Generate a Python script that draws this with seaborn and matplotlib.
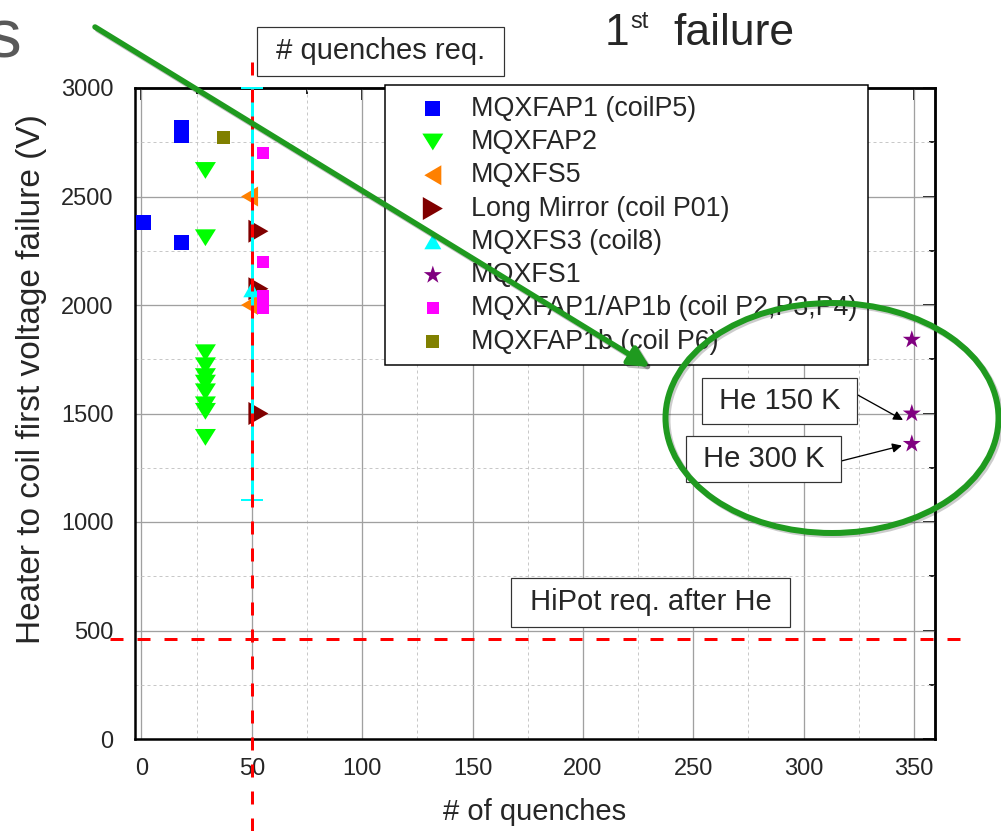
import numpy as np
import pandas as pd
import matplotlib
matplotlib.use("Agg")
import matplotlib.pyplot as plt
import seaborn as sns
from matplotlib.path import Path
from matplotlib.markers import MarkerStyle
from matplotlib.patches import Ellipse, FancyArrowPatch
import matplotlib.patheffects as pe

# ---------------- data ----------------
series_names = ["MQXFAP1 (coilP5)", "MQXFAP2", "MQXFS5", "Long Mirror (coil P01)",
                "MQXFS3 (coil8)", "MQXFS1", "MQXFAP1/AP1b (coil P2,P3,P4)",
                "MQXFAP1b (coil P6)"]

mqxfap1_x = [1, 18, 18, 18]
mqxfap1_y = [2380, 2820, 2780, 2290]

mqxfap2_x = [29, 29, 29, 29, 29, 29, 29, 29, 29, 29]
mqxfap2_y = [2620, 2310, 1780, 1720, 1670, 1640, 1600, 1540, 1510, 1390]

mqxfs5_x = [49, 49]
mqxfs5_y = [2500, 2000]

long_mirror_x = [53, 53, 53]
long_mirror_y = [2340, 2075, 1500]

mqxfs3_x = [50]
mqxfs3_y = [2070]
mqxfs3_err_low = [970]
mqxfs3_err_high = [930]

mqxfs1_x = [349, 349, 349]
mqxfs1_y = [1840, 1500, 1360]

ap1b_x = [55, 55, 55, 55]
ap1b_y = [2700, 2200, 2040, 1985]

ap1b_p6_x = [37]
ap1b_p6_y = [2770]

quench_req = 50
hipot_req = 460

x_ticks = [0, 50, 100, 150, 200, 250, 300, 350]
y_ticks = [0, 500, 1000, 1500, 2000, 2500, 3000]

# ---------------- style ----------------
sns.set_style("white")
plt.rcParams["font.family"] = ["Liberation Sans", "DejaVu Sans"]
plt.rcParams["lines.scale_dashes"] = False

DPI = 100
fig = plt.figure(figsize=(10.01, 8.31), dpi=DPI)
ax = fig.add_axes([135 / 1001, 1 - 739 / 831, 800 / 1001, 651 / 831])

def px(v):  # pixels -> points
    return v * 72 / DPI

def mk(verts):
    return MarkerStyle(Path(verts + [verts[0]], closed=True))

m_down = mk([(-1, 0.8), (1, 0.8), (0, -0.8)])
m_left = mk([(-0.85, 0), (0.85, 1), (0.85, -1)])
m_right = mk([(-0.87, 1), (0.87, 0), (-0.87, -1)])
m_up = mk([(-1, -0.88), (1, -0.88), (0, 0.88)])

frames = []
for name, xs, ys in [(series_names[0], mqxfap1_x, mqxfap1_y),
                     (series_names[1], mqxfap2_x, mqxfap2_y),
                     (series_names[2], mqxfs5_x, mqxfs5_y),
                     (series_names[3], long_mirror_x, long_mirror_y),
                     (series_names[4], mqxfs3_x, mqxfs3_y),
                     (series_names[5], mqxfs1_x, mqxfs1_y),
                     (series_names[6], ap1b_x, ap1b_y),
                     (series_names[7], ap1b_p6_x, ap1b_p6_y)]:
    frames.append(pd.DataFrame({"series": name, "quenches": xs, "voltage": ys}))
df = pd.concat(frames, ignore_index=True)

styles = {
    series_names[0]: dict(marker="s", size_px=15, color="#0000ff"),
    series_names[1]: dict(marker=m_down, size_px=21, color="#00ff00"),
    series_names[2]: dict(marker=m_left, size_px=20, color="#ff8000"),
    series_names[3]: dict(marker=m_right, size_px=23, color="#800000"),
    series_names[4]: dict(marker=m_up, size_px=17, color="#00ffff"),
    series_names[5]: dict(marker="*", size_px=19, color="#800080"),
    series_names[6]: dict(marker="s", size_px=12, color="#ff00ff"),
    series_names[7]: dict(marker="s", size_px=13, color="#808000"),
}

for name in series_names:
    st = styles[name]
    sub = df[df["series"] == name]
    sns.scatterplot(data=sub, x="quenches", y="voltage", marker=st["marker"],
                    s=px(st["size_px"]) ** 2, color=st["color"], edgecolor="none",
                    linewidth=0, label=name, ax=ax, zorder=3, clip_on=False)

# error bar for MQXFS3
ax.errorbar(mqxfs3_x, mqxfs3_y, yerr=[mqxfs3_err_low, mqxfs3_err_high], fmt="none",
            ecolor="#00ffff", elinewidth=px(3), capsize=px(11), capthick=px(2),
            zorder=4, clip_on=False)

# requirement lines (extend beyond axes)
dash = (0, (px(13), px(14)))
ax.axvline(quench_req, ymin=(739 - 831) / 651, ymax=(739 - 48) / 651, color="#ff0000",
           lw=px(3), linestyle=dash, clip_on=False, zorder=5)
ax.axhline(hipot_req, xmin=(110 - 135) / 800, xmax=(972 - 135) / 800, color="#ff0000",
           lw=px(3), linestyle=dash, clip_on=False, zorder=5)

# axes ranges and ticks
ax.set_xlim(-2.9, 359.5)
ax.set_ylim(0, 3000)
ax.set_xticks(x_ticks)
ax.set_yticks(y_ticks)
ax.set_xticks(np.arange(25, 360, 50), minor=True)
ax.set_yticks(np.arange(250, 3000, 500), minor=True)
ax.tick_params(axis="both", which="major", labelsize=17, width=px(2), length=px(12),
               direction="out", color="black")
ax.tick_params(axis="both", which="minor", width=px(2), length=px(6), direction="out",
               color="black")
ax.tick_params(axis="x", which="major", pad=5)
ax.tick_params(axis="y", which="major", pad=7)

# top / right inward ticks using secondary axes
sec_x = ax.secondary_xaxis("top")
sec_x.set_xticks(x_ticks)
sec_x.set_xticks(np.arange(25, 360, 50), minor=True)
sec_x.tick_params(which="major", direction="in", length=px(12), width=px(2), labeltop=False)
sec_x.tick_params(which="minor", direction="in", length=px(6), width=px(2))
sec_x.set_xticklabels([])
sec_x.spines["top"].set_linewidth(px(2.5))
sec_y = ax.secondary_yaxis("right")
sec_y.set_yticks(y_ticks)
sec_y.set_yticks(np.arange(250, 3000, 500), minor=True)
sec_y.tick_params(which="major", direction="in", length=px(12), width=px(2), labelright=False)
sec_y.tick_params(which="minor", direction="in", length=px(6), width=px(2))
sec_y.set_yticklabels([])
sec_y.spines["right"].set_linewidth(px(2.5))

for s in ax.spines.values():
    s.set_visible(True)
    s.set_color("black")
    s.set_linewidth(px(2.5))

ax.grid(True, which="major", color="#a0a0a0", lw=px(1.3), linestyle="-", zorder=0)
ax.grid(True, which="minor", color="#c8c8c8", lw=px(1), linestyle=(0, (px(3), px(3))), zorder=0)
ax.set_axisbelow(True)

ax.set_xlabel("# of quenches", fontsize=21)
ax.set_ylabel("Heater to coil first voltage failure (V)", fontsize=24)
ax.xaxis.set_label_coords(0.5, (739 - 798) / 651)
ax.yaxis.set_label_coords((47 - 135) / 800, (739 - 379) / 651)

# legend
leg = ax.legend(loc="upper left", bbox_to_anchor=(385 / 1001, 1 - 85 / 831),
                bbox_transform=fig.transFigure, borderaxespad=0, fontsize=19.4,
                frameon=True, fancybox=False, framealpha=1, edgecolor="black",
                borderpad=0.4, labelspacing=0.27, handlelength=2.75,
                handletextpad=0.05, scatterpoints=1)
leg.get_frame().set_linewidth(px(1.5))
leg.set_zorder(6)

# text boxes
box = dict(boxstyle="square,pad=0.36", facecolor="white", edgecolor="#333333", lw=px(1.2))
box_he = dict(boxstyle="square,pad=0.3", facecolor="white", edgecolor="#333333", lw=px(1.2))
fig.text(380.5 / 1001, 1 - 51 / 831, " # quenches req. ", fontsize=21, ha="center",
         va="center", bbox=box)
fig.text(650.5 / 1001, 1 - 602.5 / 831, " HiPot req. after He ", fontsize=21, ha="center",
         va="center", bbox=box)

ax.annotate(" He 150 K ", xy=(345, 1470),
            xytext=(779.5 / 1001, 1 - 401 / 831), textcoords="figure fraction",
            fontsize=21, ha="center", va="center", bbox=box_he, zorder=7,
            arrowprops=dict(arrowstyle="-|>", color="black", lw=px(1.3),
                            mutation_scale=14, shrinkA=0, shrinkB=0,
                            relpos=(1.03, 0.82)))
ax.annotate(" He 300 K ", xy=(344.5, 1352),
            xytext=(763.5 / 1001, 1 - 459 / 831), textcoords="figure fraction",
            fontsize=21, ha="center", va="center", bbox=box_he, zorder=7,
            arrowprops=dict(arrowstyle="-|>", color="black", lw=px(1.3),
                            mutation_scale=14, shrinkA=0, shrinkB=0,
                            relpos=(1.05, 0.41)))

# title fragments: "1st failure" with superscript
fig.text(605 / 1001, 1 - 45 / 831, "1", fontsize=32, ha="left", va="baseline")
fig.text(630 / 1001, 1 - 28 / 831, "st", fontsize=17, ha="left", va="baseline")
fig.text(673 / 1001, 1 - 45 / 831, "failure", fontsize=32, ha="left", va="baseline")
fig.text(21 / 1001, 1 - 58 / 831, "s", fontsize=50, ha="right", va="baseline",
         color="#595959")

# green highlight arrow and ellipse
green = "#1f9a1f"
arrow = FancyArrowPatch((95 / 1001, 1 - 27 / 831), (650 / 1001, 1 - 367 / 831),
                        transform=fig.transFigure, arrowstyle="-|>", mutation_scale=30,
                        color=green, lw=px(5.5), shrinkA=0, shrinkB=0, zorder=20)
arrow.set_path_effects([pe.SimpleLineShadow(offset=(2, -2), alpha=0.25), pe.Normal()])
fig.add_artist(arrow)
ell_shadow = Ellipse((834 / 1001, 1 - 420 / 831), 333 / 1001, 230 / 831,
                     transform=fig.transFigure, fill=False, edgecolor="#000000",
                     alpha=0.2, lw=px(6), zorder=19)
fig.add_artist(ell_shadow)
ell = Ellipse((832 / 1001, 1 - 418 / 831), 333 / 1001, 230 / 831, transform=fig.transFigure,
              fill=False, edgecolor=green, lw=px(6), zorder=20)
fig.add_artist(ell)

fig.savefig("out.png", dpi=DPI)
